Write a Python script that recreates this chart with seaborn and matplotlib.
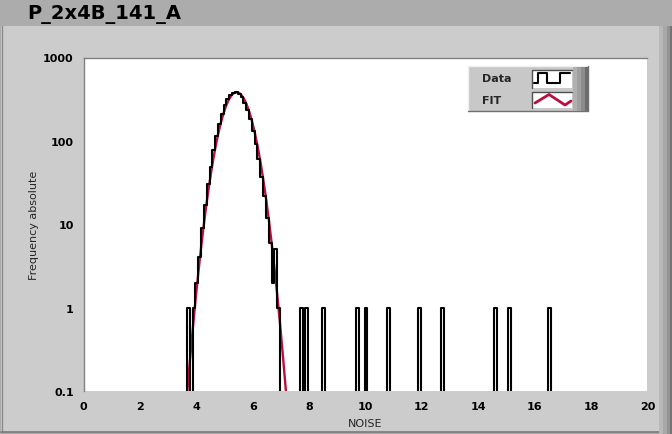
import numpy as np
import pandas as pd
import matplotlib
matplotlib.use("Agg")
import matplotlib.pyplot as plt
import seaborn as sns
from matplotlib.patches import Rectangle
from matplotlib.lines import Line2D

# ---------------- data ----------------
title = "P_2x4B_141_A"
x_label = "NOISE"
y_label = "Frequency absolute"
legend_labels = ["Data", "FIT"]

bin_width = 0.1
peak_first_edge = 3.67
# histogram counts of the main peak, one per 0.1-wide bin starting at 3.67
peak_counts = [1, 0, 1, 2, 4, 9, 17, 30, 49, 78, 113, 160, 212, 266, 318, 352,
               378, 383, 368, 333, 287, 234, 181, 133, 92, 60, 37, 22, 12, 6,
               2, 5, 1]
# isolated single-count bins (left edges)
outlier_edges = [7.67, 7.87, 8.47, 9.67, 9.97, 10.77, 11.87, 12.67, 14.57,
                 15.07, 16.47]
outlier_counts = [1, 1, 1, 1, 1, 1, 1, 1, 1, 1, 1]

# gaussian fit curve, sampled
fit_x = [3.67, 3.77, 3.87, 3.97, 4.07, 4.17, 4.27, 4.37, 4.47, 4.57, 4.67,
         4.77, 4.87, 4.97, 5.07, 5.17, 5.27, 5.37, 5.47, 5.57, 5.67, 5.77,
         5.87, 5.97, 6.07, 6.17, 6.27, 6.37, 6.47, 6.57, 6.67, 6.77, 6.87,
         6.97, 7.07, 7.17, 7.27]
fit_y = [0.089, 0.224, 0.535, 1.21, 2.59, 5.27, 10.1, 18.5, 31.9, 52.2, 80.8,
         118.6, 165, 217, 271, 321, 359, 381, 383, 365, 329, 282, 228, 175,
         127, 87.6, 57.2, 35.3, 20.7, 11.5, 6.03, 3.0, 1.42, 0.634, 0.268,
         0.107, 0.041]

x_ticks = [0, 2, 4, 6, 8, 10, 12, 14, 16, 18, 20]
y_ticks = [0.1, 1, 10, 100, 1000]
y_tick_labels = ["0.1", "1", "10", "100", "1000"]

# ---------------- build full histogram on a grid ----------------
n_bins = 135
start = peak_first_edge - bin_width          # one empty bin before the peak
edges = start + bin_width * np.arange(n_bins + 1)
counts = np.zeros(n_bins)
for i, c in enumerate(peak_counts):
    counts[i + 1] = c
for e, c in zip(outlier_edges, outlier_counts):
    idx = int(round((e - start) / bin_width))
    counts[idx] = c
plot_counts = np.where(counts > 0, counts, 1e-3)
hist_df = pd.DataFrame({"x": edges, "y": np.append(plot_counts, 1e-3)})
fit_df = pd.DataFrame({"x": fit_x, "y": fit_y})

# ---------------- figure ----------------
sns.set_theme(style="white")
plt.rcParams["font.family"] = ["DejaVu Sans"]

W, H = 672, 435
fig = plt.figure(figsize=(W / 100, H / 100), dpi=100)
fig.patch.set_facecolor("#acacac")


def fx(px):
    return px / W


def fy(py):
    return 1 - py / H


def frect(x0, y0, x1, y1, **kw):
    r = Rectangle((fx(x0), fy(y1)), fx(x1) - fx(x0), fy(y0) - fy(y1),
                  transform=fig.transFigure, **kw)
    fig.add_artist(r)
    return r


def fline(xs, ys, **kw):
    l = Line2D([fx(v) for v in xs], [fy(v) for v in ys],
               transform=fig.transFigure, **kw)
    fig.add_artist(l)
    return l


# panel
frect(1, 27, 659, 433, facecolor="#cccccc", edgecolor="none", zorder=0)
fline([1.5, 1.5], [27, 433], color="#8a8a8a", lw=1, zorder=1)
fline([1, 659], [432.5, 432.5], color="#7a7a7a", lw=1.2, zorder=1)
# right bevel strips
for x0, x1, c in [(659, 663, "#b8b8b8"), (663, 667, "#a8a8a8"),
                  (667, 670, "#949494"), (670, 672, "#747474")]:
    frect(x0, 27, x1, 435, facecolor=c, edgecolor="none", zorder=1)

fig.text(fx(27), fy(14), title, fontsize=14, fontweight="bold",
         ha="left", va="center", color="black")

ax = fig.add_axes([fx(83.5), fy(392), fx(647.5) - fx(83.5), fy(58.5) - fy(392)])
ax.set_facecolor("white")

sns.lineplot(data=fit_df, x="x", y="y", ax=ax, color="#b8103c", lw=1.7,
             estimator=None, sort=False, zorder=3)
sns.lineplot(data=hist_df, x="x", y="y", ax=ax, color="black", lw=1.5,
             estimator=None, sort=False, drawstyle="steps-post", zorder=4)

ax.set_yscale("log")
ax.set_xlim(0, 20)
ax.set_ylim(0.1, 1000)
ax.set_xticks(x_ticks)
ax.set_xticklabels([str(t) for t in x_ticks])
ax.set_yticks(y_ticks)
ax.set_yticklabels(y_tick_labels)
ax.yaxis.set_minor_locator(matplotlib.ticker.NullLocator())
ax.tick_params(axis="both", which="major", direction="out", length=5,
               width=1, color="#222222", labelsize=8, pad=2,
               labelcolor="black")
for lab in ax.get_xticklabels() + ax.get_yticklabels():
    lab.set_fontweight("bold")
ax.tick_params(axis="both", which="minor", length=0)
for s in ax.spines.values():
    s.set_color("#808080")
    s.set_linewidth(1)
ax.spines["bottom"].set_visible(False)
ax.spines["right"].set_visible(False)

ax.set_xlabel(x_label, fontsize=8, labelpad=5)
ax.set_ylabel(y_label, fontsize=8, labelpad=3)

# ---------------- legend (manual, LabVIEW style) ----------------
frect(468, 67, 588, 112, facecolor="#c8c8c8", edgecolor="none", zorder=5)
fline([468, 468, 588], [112, 67, 67], color="#f0f0f0", lw=1, zorder=6)
fline([468, 588, 588], [112, 112, 67], color="#707070", lw=1, zorder=6)
for x0, x1, c in [(573, 577, "#b0b0b0"), (577, 581, "#a0a0a0"),
                  (581, 585, "#8c8c8c"), (585, 588, "#6c6c6c")]:
    frect(x0, 68, x1, 112, facecolor=c, edgecolor="none", zorder=6)
fig.text(fx(482), fy(79.5), legend_labels[0], fontsize=8, fontweight="bold",
         ha="left", va="center", zorder=7)
fig.text(fx(482), fy(101.5), legend_labels[1], fontsize=8, fontweight="bold",
         ha="left", va="center", zorder=7)
for (y0, y1) in [(71, 89), (93, 109)]:
    frect(532, y0, 572, y1, facecolor="white", edgecolor="none", zorder=6)
    fline([532, 532, 572], [y1, y0, y0], color="#505050", lw=1, zorder=7)
fline([534, 538, 538, 547, 547, 560, 560, 570],
      [84, 84, 74, 74, 84, 84, 74, 74], color="black", lw=1.5, zorder=8)
fline([535, 549, 565, 571], [104, 95.5, 106, 102], color="#b8103c", lw=2,
      zorder=8)

fig.savefig("out.png", dpi=100, facecolor=fig.get_facecolor())
